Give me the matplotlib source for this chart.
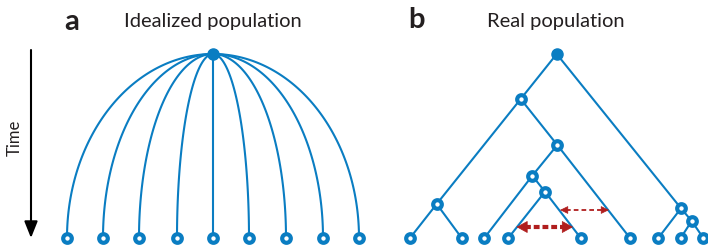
import numpy as np
import matplotlib.pyplot as plt

# panel a: star tree (pixel-space layout)
root_a = (213, 54)
leaves_a_x = [67, 103, 139, 177, 213, 249, 286, 323, 359]
leaf_y = 238

# panel b: real genealogy, node name -> (x, y)
nodes_b = {
    'R': (556.7, 54), 'A': (520.7, 99), 'B': (557.3, 145), 'C': (532.3, 175.7),
    'D': (545, 191.7), 'E': (436.7, 204), 'F': (681, 208.3), 'G': (691.7, 221),
    'l1': (410, 238), 'l2': (461.7, 238), 'l3': (484.3, 238), 'l4': (508.3, 238),
    'l5': (580.7, 238), 'l6': (630, 238), 'l7': (658.3, 238), 'l8': (680.7, 238),
    'l9': (703.3, 238),
}
edges_b = [('R', 'A'), ('R', 'F'), ('A', 'E'), ('A', 'B'), ('B', 'C'), ('B', 'l6'),
           ('C', 'l3'), ('C', 'D'), ('D', 'l4'), ('D', 'l5'), ('E', 'l1'), ('E', 'l2'),
           ('F', 'l7'), ('F', 'G'), ('G', 'l8'), ('G', 'l9')]

# red double arrows: x_left, x_right, y
thin_arrow = (560, 609, 210)
thick_arrow = (516.5, 573, 227)

blue = '#0a7dc2'
red = '#b01e1e'
txt = '#231f20'
font = 'Lato'

fig = plt.figure(figsize=(7.08, 2.46), dpi=100)
ax = fig.add_axes([0, 0, 1, 1])
ax.set_xlim(0, 708)
ax.set_ylim(246, 0)
ax.axis('off')

# panel a curves: quarter ellipses from root to leaves
t = np.linspace(0, np.pi / 2, 100)
for lx in leaves_a_x:
    a = lx - root_a[0]
    b = leaf_y - root_a[1]
    ax.plot(root_a[0] + a * np.sin(t), leaf_y - b * np.cos(t), color=blue, lw=1.5,
            solid_capstyle='round', zorder=2)
ax.plot(leaves_a_x, [leaf_y] * len(leaves_a_x), 'o', ms=6.2, mfc='white', mec=blue, mew=3,
        zorder=3)
ax.plot(*root_a, 'o', ms=8, color=blue, zorder=4)

# panel b tree
for p, c in edges_b:
    ax.plot([nodes_b[p][0], nodes_b[c][0]], [nodes_b[p][1], nodes_b[c][1]], color=blue,
            lw=1.5, zorder=2)
for name, (x, y) in nodes_b.items():
    if name == 'R':
        ax.plot(x, y, 'o', ms=8, color=blue, zorder=4)
    else:
        ax.plot(x, y, 'o', ms=6.2, mfc='white', mec=blue, mew=3, zorder=3)


def dashed_double_arrow(x0, x1, y, lw, dashes, head_len, head_w):
    ax.plot([x0 + head_len * 0.8, x1 - head_len * 0.8], [y, y], color=red, lw=lw,
            dashes=dashes, solid_capstyle='butt', dash_capstyle='butt', zorder=5)
    for tip, tail in ((x0, x0 + head_len), (x1, x1 - head_len)):
        ax.annotate('', xy=(tip, y), xytext=(tail, y), zorder=6,
                    arrowprops=dict(arrowstyle=f'-|>,head_length={head_len / 10},'
                                               f'head_width={head_w / 10}',
                                    color=red, lw=0.5, mutation_scale=10 * 0.72,
                                    shrinkA=0, shrinkB=0))


dashed_double_arrow(*thin_arrow, lw=1.3, dashes=(2.6, 1.7), head_len=7, head_w=3.4)
dashed_double_arrow(*thick_arrow, lw=3.0, dashes=(1.4, 0.7), head_len=10, head_w=5.5)

# time arrow
ax.annotate('', xy=(31, 238), xytext=(31, 50),
            arrowprops=dict(arrowstyle='-|>,head_length=0.5,head_width=0.2', color='black',
                            lw=1.5, mutation_scale=20, shrinkA=0, shrinkB=0))
ax.text(15, 138, 'Time', rotation=90, ha='center', va='center', fontsize=12,
        color=txt, family=font)

# titles
ax.text(71.5, 22, 'a', ha='center', va='center', fontsize=21, fontweight='bold',
        color=txt, family=font)
ax.text(212.5, 22, 'Idealized population', ha='center', va='center', fontsize=14.5,
        color=txt, family=font)
ax.text(416, 20, 'b', ha='center', va='center', fontsize=21, fontweight='bold',
        color=txt, family=font)
ax.text(556, 22, 'Real population', ha='center', va='center', fontsize=14.5,
        color=txt, family=font)

fig.savefig('out.png', dpi=100)
